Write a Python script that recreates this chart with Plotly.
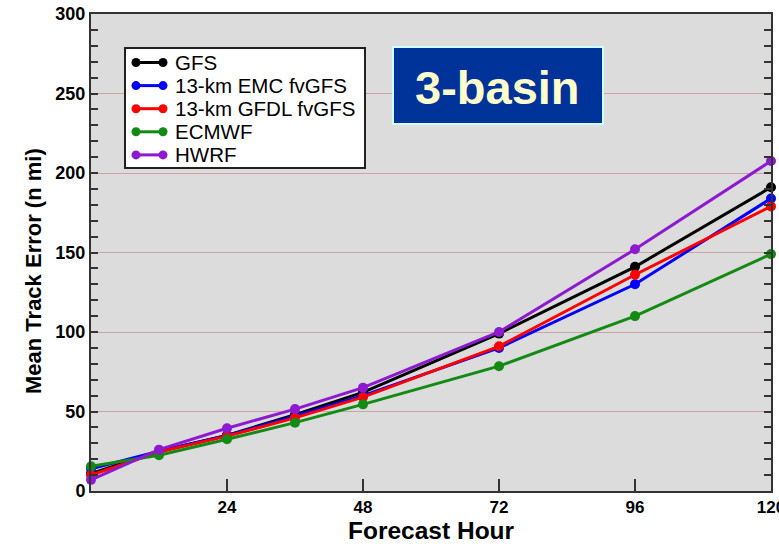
import plotly.graph_objects as go

# Forecast lead times (h) and mean track errors (n mi)
hours = [0, 12, 24, 36, 48, 72, 96, 120]
gfs = [11, 25, 35, 48, 62, 99, 141, 191]
emc_fvgfs = [14, 25, 35, 47, 60, 90, 130, 184]
gfdl_fvgfs = [10, 24.5, 34.5, 46, 59, 91, 136, 179]
ecmwf = [15.5, 22.5, 32.5, 43, 54.5, 78.5, 110, 149]
hwrf = [7, 26, 39.5, 51.5, 65, 100, 152, 207.5]

series_names = ["GFS", "13-km EMC fvGFS", "13-km GFDL fvGFS", "ECMWF", "HWRF"]
series_values = [gfs, emc_fvgfs, gfdl_fvgfs, ecmwf, hwrf]
series_colors = ["#000000", "#0000ff", "#ff0000", "#138a13", "#8e1ad0"]

x_ticks = [24, 48, 72, 96, 120]
y_ticks = [0, 50, 100, 150, 200, 250, 300]

W, H = 779, 544
ML, MR, MT, MB = 91, 8, 14, 53
PW, PH = W - ML - MR, H - MT - MB
FONT = "Liberation Sans, Arial, Helvetica, sans-serif"


def px(x):
    return (x - ML) / PW


def py(y):
    return (H - MB - y) / PH


fig = go.Figure()
for name, vals, col in zip(series_names, series_values, series_colors):
    fig.add_trace(go.Scatter(
        x=hours, y=vals, name=name, mode="lines+markers",
        line=dict(color=col, width=3),
        marker=dict(color=col, size=10),
        showlegend=False, cliponaxis=False,
    ))

shapes = []
annotations = []

# legend box
shapes.append(dict(type="rect", xref="paper", yref="paper",
                   x0=px(125), x1=px(365), y0=py(168), y1=py(48),
                   fillcolor="white", line=dict(color="#222222", width=2)))
for i, (name, col) in enumerate(zip(series_names, series_colors)):
    yc = py(62.5 + i * 23.1)
    shapes.append(dict(type="line", xref="paper", yref="paper",
                       x0=px(136), x1=px(163), y0=yc, y1=yc,
                       line=dict(color=col, width=3)))
    for xc in (136, 163):
        shapes.append(dict(type="circle", xref="paper", yref="paper",
                           xsizemode="pixel", ysizemode="pixel",
                           xanchor=px(xc), yanchor=yc,
                           x0=-4.5, x1=4.5, y0=-4.5, y1=4.5,
                           fillcolor=col, line=dict(color=col, width=0)))
    annotations.append(dict(xref="paper", yref="paper", x=px(173), y=yc,
                            xanchor="left", yanchor="middle", showarrow=False,
                            text=name, font=dict(family=FONT, size=20.5, color="black")))

# basin label box
shapes.append(dict(type="rect", xref="paper", yref="paper",
                   x0=px(393), x1=px(603), y0=py(124), y1=py(47),
                   fillcolor="#003399", line=dict(color="#ccffff", width=2)))
annotations.append(dict(xref="paper", yref="paper", x=px(497), y=py(87),
                        xanchor="center", yanchor="middle", showarrow=False,
                        text="3-basin",
                        font=dict(family=FONT, size=47, color="#ffffcc", weight="bold")))

# axis titles
annotations.append(dict(xref="paper", yref="paper", x=px(431), y=py(530),
                        xanchor="center", yanchor="middle", showarrow=False,
                        text="Forecast Hour",
                        font=dict(family=FONT, size=24.5, color="black", weight="bold")))
annotations.append(dict(xref="paper", yref="paper", x=px(33), y=py(271),
                        xanchor="center", yanchor="middle", showarrow=False,
                        textangle=-90, text="Mean Track Error (n mi)",
                        font=dict(family=FONT, size=22, color="black", weight="bold")))

fig.update_layout(
    width=W, height=H,
    margin=dict(l=ML, r=MR, t=MT, b=MB, autoexpand=False),
    paper_bgcolor="white", plot_bgcolor="#dcdcdc",
    shapes=shapes, annotations=annotations,
    xaxis=dict(range=[0, 120], tickvals=x_ticks, ticktext=[str(v) for v in x_ticks],
               ticks="inside", ticklen=12, tickwidth=1.5, tickcolor="#333333",
               ticklabeloverflow="allow", ticklabelstandoff=0, automargin=False,
               showline=True, linecolor="#333333", linewidth=2, mirror=True,
               showgrid=False, zeroline=False,
               tickfont=dict(family=FONT, size=17, color="black", weight="bold")),
    yaxis=dict(range=[0, 300], tickvals=y_ticks, automargin=False,
               ticks="inside", ticklen=7, tickwidth=1.5, tickcolor="#333333",
               minor=dict(dtick=10, ticks="inside", ticklen=7, tickwidth=1.5,
                          tickcolor="#333333", showgrid=False),
               showline=True, linecolor="#333333", linewidth=2, mirror="allticks",
               showgrid=True, gridcolor="#c8a4a4", gridwidth=1, zeroline=False,
               tickfont=dict(family=FONT, size=18, color="black", weight="bold")),
)

fig.write_html("out.html")
